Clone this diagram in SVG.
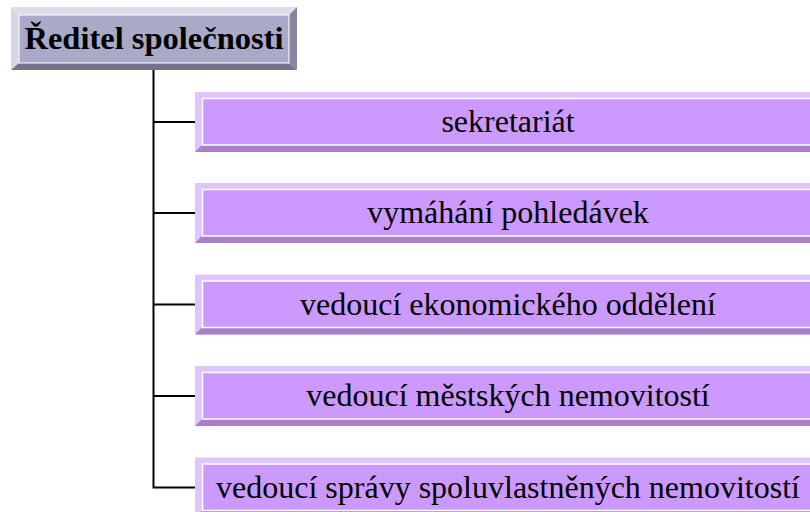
<svg xmlns="http://www.w3.org/2000/svg" xmlns:xlink="http://www.w3.org/1999/xlink" width="810" height="512" viewBox="0 0 810 512">
<style>
.lt{fill:#e1c4ff}
.dk{fill:#a77fcc}
.face{fill:#cc99ff;stroke:#ffffff;stroke-width:1.5}
.tl{fill:#d6d6e6}
.tt{fill:#dcdcea}
.tr{fill:#85859e}
.tb{fill:#73738a}
.tface{fill:#aaaac8;stroke:#ffffff;stroke-width:1}
.lbl{font-family:"Liberation Serif","Times New Roman",serif;font-size:32px;fill:#000;text-anchor:middle}
.title{font-family:"Liberation Serif","Times New Roman",serif;font-size:32.5px;font-weight:bold;fill:#000;text-anchor:middle}
.conn{fill:none;stroke:#000;stroke-width:2}
</style>
<defs>
<g id="pbox">
<rect class="lt" x="0" y="0" width="626" height="60"/>
<polygon class="dk" points="0,60 7,53 619,53 626,60"/>
<polygon class="dk" points="626,0 619,7 619,53 626,60"/>
<rect class="face" x="7.5" y="6.5" width="611" height="46.5"/>
</g>
</defs>
<rect width="810" height="512" fill="#ffffff"/>
<g id="connectors">
<polyline class="conn" points="153.5,70 153.5,487.5 195,487.5"/>
<line class="conn" x1="153.5" y1="122" x2="195" y2="122"/>
<line class="conn" x1="153.5" y1="213" x2="195" y2="213"/>
<line class="conn" x1="153.5" y1="304.5" x2="195" y2="304.5"/>
<line class="conn" x1="153.5" y1="396" x2="195" y2="396"/>
</g>
<g id="reditel" transform="translate(11,7)">
<polygon class="tt" points="0,0 286,0 278,8 8,8"/>
<polygon class="tl" points="0,0 8,8 8,56 0,63"/>
<polygon class="tr" points="286,0 286,63 278,56 278,8"/>
<polygon class="tb" points="0,63 8,56 278,56 286,63"/>
<rect class="tface" x="8" y="8" width="270" height="48"/>
<text class="title" x="143" y="42">Ředitel společnosti</text>
</g>
<g id="sekretariat" transform="translate(195,92)">
<use xlink:href="#pbox"/>
<text class="lbl" x="313" y="40">sekretariát</text>
</g>
<g id="vymahani" transform="translate(195,183)">
<use xlink:href="#pbox"/>
<text class="lbl" x="313" y="40">vymáhání pohledávek</text>
</g>
<g id="ekonom" transform="translate(195,274.5)">
<use xlink:href="#pbox"/>
<text class="lbl" x="313" y="40">vedoucí ekonomického oddělení</text>
</g>
<g id="mestske" transform="translate(195,366)">
<use xlink:href="#pbox"/>
<text class="lbl" x="313" y="40">vedoucí městských nemovitostí</text>
</g>
<g id="spoluvlast" transform="translate(195,457.5)">
<use xlink:href="#pbox"/>
<text class="lbl" x="313" y="40">vedoucí správy spoluvlastněných nemovitostí</text>
</g>
</svg>
